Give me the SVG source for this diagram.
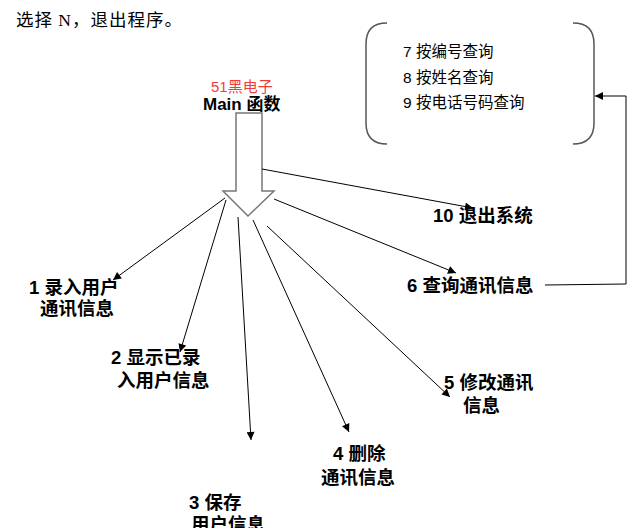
<svg xmlns="http://www.w3.org/2000/svg" width="633" height="528" viewBox="0 0 633 528">
<defs>
<marker id="ah" viewBox="0 0 10 10" refX="10" refY="5" markerWidth="10" markerHeight="8" markerUnits="userSpaceOnUse" orient="auto">
<path d="M0,0 L10,5 L0,10 z" fill="#000"/>
</marker>
</defs>
<style>
.lbl{font-family:"Liberation Sans","Noto Sans CJK SC",sans-serif;font-weight:bold;font-size:18.5px;fill:#000}
.sub{font-family:"Liberation Sans","Noto Sans CJK SC",sans-serif;font-size:15.5px;fill:#000}
.con{fill:none;stroke:#000;stroke-width:1;marker-end:url(#ah)}
</style>
<rect width="633" height="528" fill="#fff"/>
<text x="16" y="26" font-family="'Liberation Serif','Noto Sans CJK SC',serif" font-size="17.5" letter-spacing="1" fill="#000">选择 N，退出程序。</text>

<g id="main">
<text x="211" y="92" font-family="'Liberation Sans','Noto Sans CJK SC',sans-serif" font-size="15" fill="#f03c3c">51黑电子</text>
<text x="203" y="110" font-family="'Liberation Sans','Noto Sans CJK SC',sans-serif" font-weight="bold" font-size="17" fill="#000">Main 函数</text>
<polygon points="236,113 262,113 262,191 274,191 248,216 223,191 236,191" fill="#fff" stroke="#777" stroke-width="1.5"/>
</g>

<g id="search-box">
<path d="M387,23 Q366,23 366,44 L366,123 Q366,144 387,144" fill="none" stroke="#555" stroke-width="1.5"/>
<path d="M573,23 Q594,23 594,44 L594,123 Q594,144 573,144" fill="none" stroke="#555" stroke-width="1.5"/>
<text x="403" y="57" class="sub">7 按编号查询</text>
<text x="403" y="83" class="sub">8 按姓名查询</text>
<text x="403" y="108" class="sub">9 按电话号码查询</text>
</g>

<g id="n1"><text x="29" y="294" class="lbl">1 录入用户</text><text x="40" y="315" class="lbl">通讯信息</text></g>
<g id="n2"><text x="111" y="364" class="lbl">2 显示已录</text><text x="117" y="387" class="lbl">入用户信息</text></g>
<g id="n3"><text x="189" y="509" class="lbl">3 保存</text><text x="191" y="531" class="lbl">用户信息</text></g>
<g id="n4"><text x="333" y="460" class="lbl">4 删除</text><text x="321" y="484" class="lbl">通讯信息</text></g>
<g id="n5"><text x="444" y="389" class="lbl">5 修改通讯</text><text x="463" y="412" class="lbl">信息</text></g>
<g id="n6"><text x="407" y="292" class="lbl">6 查询通讯信息</text></g>
<g id="n10"><text x="433" y="222" class="lbl">10 退出系统</text></g>

<g id="connectors">
<line x1="225" y1="198" x2="113" y2="280" class="con"/>
<line x1="226" y1="200" x2="180" y2="352" class="con"/>
<line x1="238" y1="217" x2="251" y2="440" class="con"/>
<line x1="253" y1="220" x2="349" y2="432" class="con"/>
<line x1="267" y1="226" x2="450" y2="397" class="con"/>
<line x1="274" y1="199" x2="456" y2="273" class="con"/>
<line x1="262" y1="169" x2="473" y2="208" class="con"/>
<polyline points="545,285 626,284 626,96 595,96" class="con" stroke="#222"/>
</g>
</svg>
